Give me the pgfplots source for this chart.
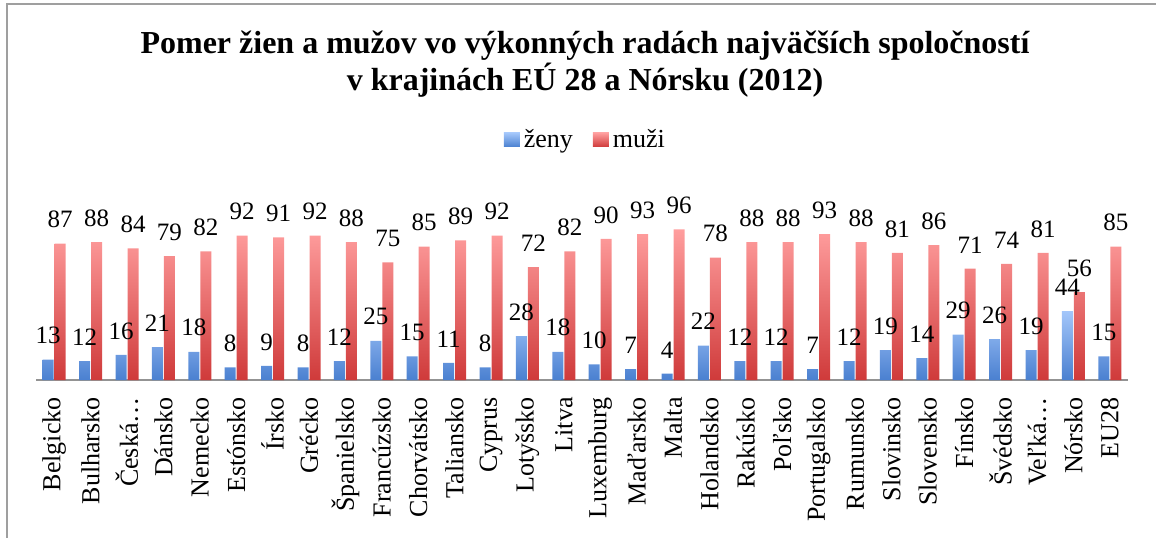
\documentclass[border=0pt]{standalone}
\usepackage{fontspec}
\setmainfont{Liberation Serif}
\usepackage{pgfplots}
\usepackage{pgfplotstable}
\pgfplotsset{compat=1.18}
\definecolor{bt}{HTML}{A3C6FA}
\definecolor{bb}{HTML}{4A80D0}
\definecolor{rt}{HTML}{FF9E9E}
\definecolor{rb}{HTML}{CF3A3A}
\pgfplotstableread{
x z m
0 13 87
1 12 88
2 16 84
3 21 79
4 18 82
5 8 92
6 9 91
7 8 92
8 12 88
9 25 75
10 15 85
11 11 89
12 8 92
13 28 72
14 18 82
15 10 90
16 7 93
17 4 96
18 22 78
19 12 88
20 12 88
21 7 93
22 12 88
23 19 81
24 14 86
25 29 71
26 26 74
27 19 81
28 44 56
29 15 85
}\data
\begin{document}
\begin{tikzpicture}
\useasboundingbox (0,0) rectangle (578pt,268.5pt);
\draw[gray!75, line width=0.9pt] (3.5pt,-2pt) -- (3.5pt,266.5pt) -- (580pt,266.5pt);
\node[font=\fontsize{16}{18.5}\selectfont\bfseries, anchor=base] at (292.5pt,242pt) {Pomer žien a mužov vo výkonných radách najväčších spoločností};
\node[font=\fontsize{16}{18.5}\selectfont\bfseries, anchor=base] at (292.5pt,223.5pt) {v krajinách EÚ 28 a Nórsku (2012)};
\begin{axis}[
  at={(18pt,78.5pt)}, anchor=south west,
  scale only axis, width=546pt, height=78.4pt,
  ymin=0, ymax=100, xmin=-0.5, xmax=29.5,
  ybar=0.5pt, bar width=5.5pt,
  axis x line=bottom, axis y line=none,
  x axis line style={-, draw=gray!85, line width=0.9pt},
  xtick={0,...,29}, major tick length=0pt,
  xticklabels={Belgicko,Bulharsko,Česká…,Dánsko,Nemecko,Estónsko,Írsko,Grécko,Španielsko,Francúzsko,Chorvátsko,Taliansko,Cyprus,Lotyšsko,Litva,Luxemburg,Maďarsko,Malta,Holandsko,Rakúsko,Poľsko,Portugalsko,Rumunsko,Slovinsko,Slovensko,Fínsko,Švédsko,Veľká…,Nórsko,EU28},
  xticklabel style={rotate=90, anchor=east, inner xsep=8.5pt, font=\fontsize{13}{15}\selectfont},
  clip=false,
  nodes near coords,
  every node near coord/.append style={font=\fontsize{12.5}{14}\selectfont, anchor=south, yshift=4.25pt, text=black},
  /pgf/number format/assume math mode=true,
  legend style={at={(0.504,1.531)}, anchor=center, draw=none, fill=none, legend columns=2,
    font=\fontsize{13}{15}\selectfont,
    /tikz/every even column/.append style={column sep=8pt}},
]
\addplot[draw=none, top color=bt, bottom color=bb] table[x=x,y=z]{\data};
\addplot[draw=none, top color=rt, bottom color=rb] table[x=x,y=m]{\data};
\legend{ženy,muži}
\pgfplotsset{legend image code/.code={\path[#1, draw=none] (0pt,-3.5pt) rectangle (8pt,3.5pt);}}
\end{axis}
\end{tikzpicture}
\end{document}
